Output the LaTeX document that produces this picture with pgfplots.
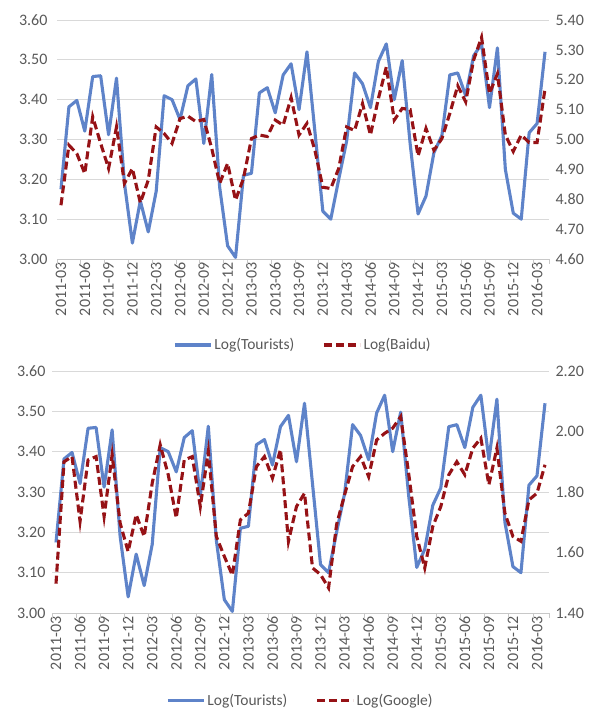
\documentclass[border=0pt]{standalone}
\usepackage{pgfplots}
\usepackage{pgfplotstable}
\pgfplotsset{compat=1.18}
\usepackage{fontspec}
\setmainfont{Carlito}
\definecolor{tblue}{RGB}{94,131,201}
\definecolor{dred}{RGB}{150,18,22}
\definecolor{txt}{RGB}{89,89,89}
\definecolor{grd}{RGB}{217,217,217}
\definecolor{tck}{RGB}{200,200,200}

\pgfplotstableread{
i tour baidu google
0 3.175 4.78 1.497
1 3.382 4.981 1.90
2 3.398 4.953 1.917
3 3.321 4.886 1.703
4 3.458 5.076 1.906
5 3.46 4.987 1.917
6 3.312 4.903 1.719
7 3.454 5.042 1.923
8 3.19 4.853 1.697
9 3.04 4.903 1.603
10 3.146 4.788 1.725
11 3.068 4.864 1.653
12 3.17 5.042 1.829
13 3.41 5.02 1.956
14 3.40 4.987 1.857
15 3.35 5.07 1.714
16 3.435 5.078 1.906
17 3.452 5.06 1.917
18 3.29 5.067 1.752
19 3.463 4.97 1.934
20 3.18 4.853 1.653
21 3.033 4.92 1.587
22 3.004 4.797 1.525
23 3.21 4.87 1.708
24 3.215 5.003 1.73
25 3.417 5.015 1.884
26 3.43 5.01 1.917
27 3.367 5.065 1.846
28 3.462 5.048 1.94
29 3.49 5.14 1.637
30 3.375 5.015 1.752
31 3.52 5.054 1.796
32 3.32 4.964 1.549
33 3.12 4.84 1.527
34 3.10 4.836 1.483
35 3.20 4.903 1.692
36 3.296 5.042 1.791
37 3.467 5.03 1.884
38 3.44 5.12 1.917
39 3.38 5.015 1.851
40 3.496 5.137 1.972
41 3.54 5.243 1.994
42 3.40 5.065 2.011
43 3.498 5.104 2.049
44 3.29 5.10 1.86
45 3.113 4.945 1.653
46 3.158 5.037 1.549
47 3.267 4.964 1.686
48 3.31 5.003 1.752
49 3.462 5.087 1.857
50 3.467 5.18 1.90
51 3.41 5.126 1.857
52 3.51 5.266 1.945
53 3.54 5.342 1.978
54 3.38 5.154 1.824
55 3.53 5.22 1.945
56 3.225 5.015 1.73
57 3.115 4.96 1.653
58 3.10 5.015 1.637
59 3.317 4.99 1.774
60 3.34 4.99 1.796
61 3.52 5.17 1.89
}\data

\pgfplotsset{
  common/.style={
    scale only axis,
    xmin=-0.5, xmax=61.5,
    /pgf/number format/assume math mode=true,
    tick label style={font=\fontsize{16}{19}\selectfont, text=txt},
    yticklabel style={/pgf/number format/fixed, /pgf/number format/fixed zerofill, /pgf/number format/precision=2},
    legend style={font=\fontsize{15.5}{18}\selectfont, text=txt},
  },
  leftax/.style={
    common,
    axis x line*=bottom, axis y line*=left,
    y axis line style={draw=none},
    x axis line style={draw=tck, line width=0.9pt},
    ymin=3.0, ymax=3.6, ytick={3.0,3.1,3.2,3.3,3.4,3.5,3.6},
    ymajorgrids, grid style={grd, line width=0.9pt},
    major y tick style={draw=none},
    xtick={0,3,...,60},
    xticklabels={2011-03,2011-06,2011-09,2011-12,2012-03,2012-06,2012-09,2012-12,2013-03,2013-06,2013-09,2013-12,2014-03,2014-06,2014-09,2014-12,2015-03,2015-06,2015-09,2015-12,2016-03},
    x tick label style={rotate=90, anchor=east},
    major x tick style={draw=none},
    extra x ticks={-0.5,2.5,5.5,8.5,11.5,14.5,17.5,20.5,23.5,26.5,29.5,32.5,35.5,38.5,41.5,44.5,47.5,50.5,53.5,56.5,59.5,61.5},
    extra x tick labels={},
    extra x tick style={major x tick style={draw=tck, line width=0.9pt}, major tick length=5pt, xtick align=outside, grid=none},
  },
  rightax/.style={
    common,
    axis x line=none, axis y line*=right,
    y axis line style={draw=none},
    major y tick style={draw=none},
    yticklabel style={xshift=3pt},
    legend columns=2,
    legend style={draw=none, fill=none, /tikz/every even column/.append style={column sep=26pt}},
    legend cell align=left,
  },
  tline/.style={tblue, line width=3.1pt, line join=round},
  dline/.style={dred, line width=3.1pt, dash pattern=on 8pt off 4pt},
}

\begin{document}
\begin{tikzpicture}
\path[use as bounding box] (0pt,0pt) rectangle (595pt,708pt);
% top panel
\begin{axis}[leftax, at={(57pt,449pt)}, anchor=south west, width=492pt, height=239pt,
  yticklabel style={xshift=-6pt}]
\addplot[tline, forget plot] table[x=i, y=tour] {\data};
\end{axis}
\begin{axis}[rightax, at={(57pt,449pt)}, anchor=south west, width=492pt, height=239pt,
  ymin=4.6, ymax=5.4, ytick={4.6,4.7,4.8,4.9,5.0,5.1,5.2,5.3,5.4},
  legend style={at={(0.5,-0.36)}, anchor=center},
  legend image code/.code={\draw[#1] (0pt,0pt) -- (36pt,0pt);}]
\addlegendimage{tline}
\addlegendentry{Log(Tourists)}
\addplot[dline] table[x=i, y=baidu] {\data};
\addlegendentry{Log(Baidu)}
\end{axis}
% bottom panel
\begin{axis}[leftax, at={(52pt,95pt)}, anchor=south west, width=497pt, height=242pt,
  yticklabel style={xshift=-3pt}]
\addplot[tline, forget plot] table[x=i, y=tour] {\data};
\end{axis}
\begin{axis}[rightax, at={(52pt,95pt)}, anchor=south west, width=497pt, height=242pt,
  ymin=1.4, ymax=2.2, ytick={1.4,1.6,1.8,2.0,2.2},
  legend style={at={(0.5,-0.36)}, anchor=center},
  legend image code/.code={\draw[#1] (0pt,0pt) -- (36pt,0pt);}]
\addlegendimage{tline}
\addlegendentry{Log(Tourists)}
\addplot[dline] table[x=i, y=google] {\data};
\addlegendentry{Log(Google)}
\end{axis}
\end{tikzpicture}
\end{document}
